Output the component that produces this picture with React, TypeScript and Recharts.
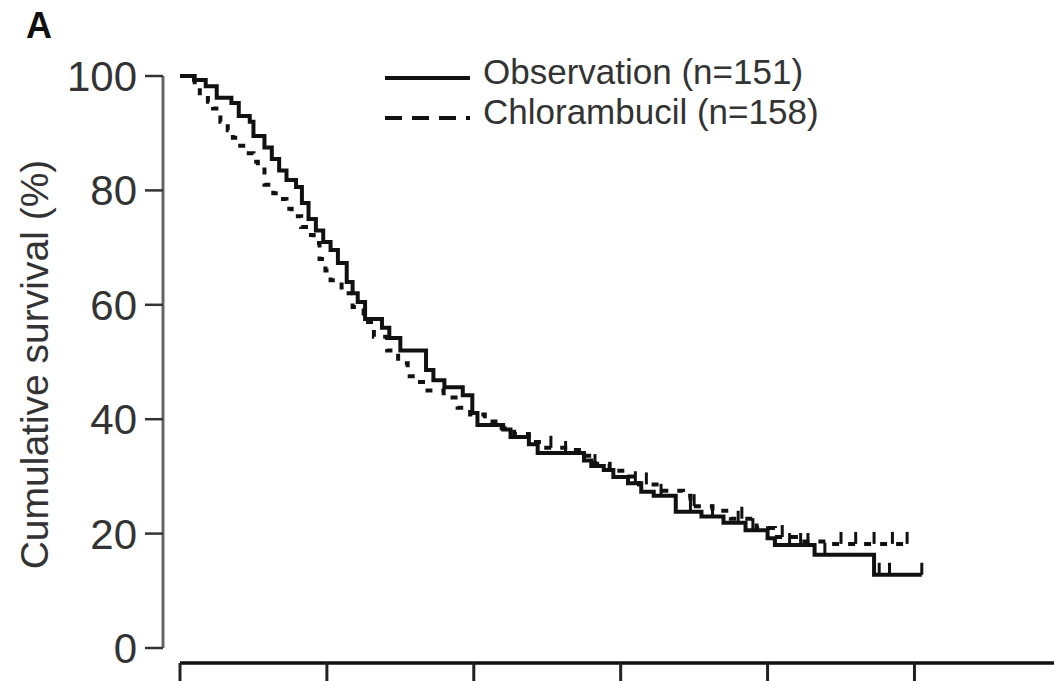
import React from 'react';
import {
    ComposedChart,
    Line,
    Scatter,
    XAxis,
    YAxis,
    Legend,
    Label
} from 'recharts';

// Kaplan-Meier curves (time in years, survival in %)
const obsTime = [
    0, 0.2, 0.35, 0.5, 0.7, 0.8, 0.95, 1.0, 1.15, 1.25, 1.35, 1.45, 1.58, 1.66, 1.75, 1.85,
    1.95, 2.05, 2.15, 2.27, 2.35, 2.42, 2.52, 2.75, 2.85, 3.0, 3.35, 3.45, 3.6, 3.85, 3.98,
    4.05, 4.4, 4.5, 4.75, 4.87, 5.5, 5.6, 5.77, 5.9, 6.1, 6.28, 6.45, 6.75, 7.1, 7.4, 7.7,
    8.0, 8.1, 8.64, 9.45, 10.1
];
const obsSurv = [
    100, 99.3, 98.2, 96.2, 95.3, 93, 92, 89.5, 87.5, 85.5, 83.5, 81.8, 80.6, 77.8, 75, 73,
    71, 69.6, 67.3, 64, 62, 60.5, 57.5, 56, 54.2, 52, 48.6, 46.8, 45.6, 44.2, 41.1,
    39, 38.2, 36.9, 35.6, 34.1, 32.8, 31.8, 31.1, 29.9, 28.8, 27.3, 26.6, 23.8, 23.0, 21.9, 20.6,
    19.2, 18, 16.3, 12.8, 12.8
];
const chlTime = [
    0, 0.08, 0.2, 0.27, 0.38, 0.45, 0.55, 0.65, 0.72, 0.82, 0.9, 1.0, 1.06, 1.15, 1.27, 1.35,
    1.45, 1.52, 1.65, 1.75, 1.82, 1.9, 1.98, 2.05, 2.2, 2.35, 2.5, 2.64, 2.82, 2.97, 3.1, 3.2,
    3.37, 3.59, 3.78, 3.95, 4.15, 4.35, 4.55, 4.75, 4.95, 5.3, 5.5, 5.65, 5.85, 6.05, 6.25,
    6.55, 6.85, 6.95, 7.25, 7.5, 7.85, 8.1, 8.45, 8.8, 9.95
];
const chlSurv = [
    100, 99.3, 98, 97, 95.5, 94.3, 92, 90.5, 89.2, 87.8, 86.5, 85, 84, 81, 79.5, 78.5,
    76.8, 75.5, 73.6, 72.2, 70.8, 68, 66, 64.3, 62, 59.6, 57, 54.4, 52, 49.8, 47.5, 46.5,
    45, 43.8, 42, 40.8, 39.6, 38.4, 37.4, 36, 35, 34.6, 33.6, 32.2, 31, 30, 28.6,
    27.5, 26.6, 24.8, 24, 22.6, 21, 19.4, 18.6, 18.2, 18.2
];
// censored observations (tick marks)
const obsCensorTime = [5.25, 5.65, 6.2, 6.55, 6.95, 7.25, 7.6, 7.8, 8.0, 8.3, 8.45, 8.55, 8.78, 9.52, 9.66, 10.1];
const chlCensorTime = [5.05, 6.35, 7.0, 7.65, 8.2, 9.0, 9.2, 9.45, 9.7, 9.9];

const yTicks = [0, 20, 40, 60, 80, 100];
const xTicks = [0, 2, 4, 6, 8, 10];
const seriesNames = ['Observation (n=151)', 'Chlorambucil (n=158)'];
const panelLetter = 'A';
const yTitle = 'Cumulative survival (%)';

type Row = { t: number; s: number };

const toRows = (times: number[], surv: number[]): Row[] =>
    times.map((t, i) => ({ t, s: surv[i] }));

// step lookup: survival value in force at time t
const survivalAt = (rows: Row[], t: number) => {
    let s = rows[0].s;
    for (const r of rows) {
        if (r.t <= t) s = r.s;
    }
    return s;
};

const obsRows = toRows(obsTime, obsSurv);
const chlRows = toRows(chlTime, chlSurv);
const obsCensor = obsCensorTime.map((t) => ({ t, s: survivalAt(obsRows, t) }));
const chlCensor = chlCensorTime.map((t) => ({ t, s: survivalAt(chlRows, t) }));

const FONT = '"Liberation Sans", Arial, sans-serif';
const INK = '#111';

const CensorTick = (props: any) => {
    const { cx, cy } = props;
    if (cx == null || cy == null) return null;
    return <line x1={cx} x2={cx} y1={cy} y2={cy - 12} stroke={INK} strokeWidth={3} />;
};

const LegendContent = () => (
    <div style={{ fontFamily: FONT }}>
        {seriesNames.map((name, i) => (
            <div key={name} style={{ display: 'flex', alignItems: 'flex-start', height: 40 }}>
                <svg width={85} height={40} style={{ display: 'block' }}>
                    <line
                        x1={0}
                        x2={85}
                        y1={26}
                        y2={26}
                        stroke={INK}
                        strokeWidth={4}
                        strokeDasharray={i === 0 ? undefined : '17 10'}
                    />
                </svg>
                <span style={{ marginLeft: 13, fontSize: 35, lineHeight: '40px', color: '#333', whiteSpace: 'nowrap' }}>
                    {name}
                </span>
            </div>
        ))}
    </div>
);

const YTitle = (props: any) => {
    const { viewBox } = props;
    const cy = viewBox.y + viewBox.height / 2 - 5;
    const cx = 34;
    return (
        <text
            x={cx}
            y={cy}
            transform={`rotate(-90, ${cx}, ${cy})`}
            textAnchor="middle"
            dominantBaseline="central"
            fontSize={39}
            fill="#333"
            fontFamily={FONT}
        >
            {yTitle}
        </text>
    );
};

export default function App() {
    return (
        <div style={{ position: 'absolute', left: 0, top: 0, width: 1054, height: 681, overflow: 'hidden', background: '#fff' }}>
            <div
                style={{
                    position: 'absolute',
                    left: 26,
                    top: 8,
                    fontFamily: FONT,
                    fontWeight: 'bold',
                    fontSize: 36,
                    lineHeight: 1,
                    color: INK
                }}
            >
                {panelLetter}
            </div>
            <ComposedChart
                width={1054}
                height={681}
                margin={{ top: 76, right: 0, bottom: 0, left: 0 }}
                style={{ fontFamily: FONT }}
            >
                <XAxis
                    dataKey="t"
                    type="number"
                    domain={[0, 11.9]}
                    ticks={xTicks}
                    allowDataOverflow
                    padding={{ left: 17, right: 0 }}
                    height={18}
                    tickFormatter={() => ''}
                    tickSize={18}
                    axisLine={{ stroke: INK, strokeWidth: 3.5, strokeDasharray: '0 17 2000' }}
                    tickLine={{ stroke: '#222', strokeWidth: 3 }}
                />
                <YAxis
                    type="number"
                    domain={[0, 100]}
                    ticks={yTicks}
                    width={163}
                    padding={{ top: 0, bottom: 15 }}
                    tickSize={18}
                    tickMargin={8}
                    tick={{ fontSize: 42, fill: '#333', fontFamily: FONT }}
                    axisLine={{ stroke: '#666', strokeWidth: 3, strokeDasharray: '572 100' }}
                    tickLine={{ stroke: '#333', strokeWidth: 2.5 }}
                >
                    <Label content={<YTitle />} />
                </YAxis>
                <Legend
                    layout="vertical"
                    align="center"
                    verticalAlign="middle"
                    content={<LegendContent />}
                    wrapperStyle={{ top: 52, left: 385, width: 520, height: 80 }}
                />
                <Line
                    data={obsRows}
                    dataKey="s"
                    name={seriesNames[0]}
                    type="stepAfter"
                    stroke={INK}
                    strokeWidth={4}
                    dot={false}
                    activeDot={false}
                    isAnimationActive={false}
                />
                <Line
                    data={chlRows}
                    dataKey="s"
                    name={seriesNames[1]}
                    type="stepAfter"
                    stroke={INK}
                    strokeWidth={4}
                    strokeDasharray="7 9"
                    dot={false}
                    activeDot={false}
                    isAnimationActive={false}
                />
                <Scatter
                    data={obsCensor}
                    dataKey="s"
                    legendType="none"
                    shape={<CensorTick />}
                    isAnimationActive={false}
                />
                <Scatter
                    data={chlCensor}
                    dataKey="s"
                    legendType="none"
                    shape={<CensorTick />}
                    isAnimationActive={false}
                />
            </ComposedChart>
        </div>
    );
}
